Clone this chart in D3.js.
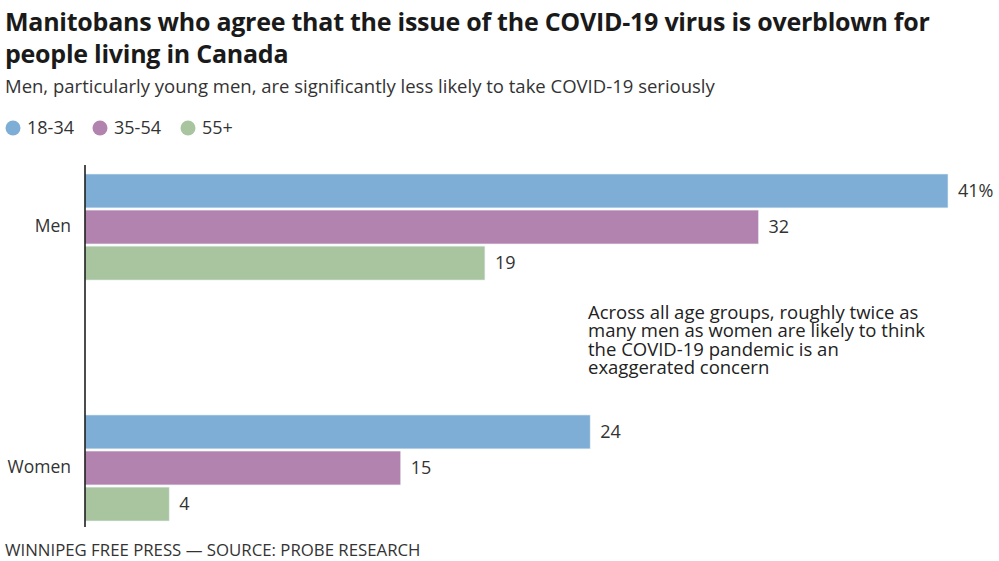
<!DOCTYPE html>
<html>
<head>
<meta charset="utf-8">
<script src="https://cdn.jsdelivr.net/npm/d3@7"></script>
<style>
  body { margin: 0; background: #fff; }
  text { font-family: "Open Sans", sans-serif; fill: #222; }
</style>
</head>
<body>
<div id="chart"></div>
<script>
// data
var groups = ["Men", "Women"];
var ages = ["18-34", "35-54", "55+"];
var menValues = [41, 32, 19];
var womenValues = [24, 15, 4];
var colors = ["#7eaed6", "#b283ae", "#a9c5a0"];
var titleLines = ["Manitobans who agree that the issue of the COVID-19 virus is overblown for",
                  "people living in Canada"];
var subtitle = "Men, particularly young men, are significantly less likely to take COVID-19 seriously";
var note = ["Across all age groups, roughly twice as", "many men as women are likely to think",
            "the COVID-19 pandemic is an", "exaggerated concern"];
var footer = "WINNIPEG FREE PRESS \u2014 SOURCE: PROBE RESEARCH";

var rows = [];
groups.forEach(function(g, gi) {
  var vals = gi === 0 ? menValues : womenValues;
  ages.forEach(function(a, ai) { rows.push({group: g, age: a, value: vals[ai]}); });
});

var W = 999, H = 561;
var svg = d3.select("#chart").append("svg")
    .attr("width", W)
    .attr("height", H);

// title + subtitle
svg.selectAll("text.title")
  .data(titleLines)
  .enter().append("text")
    .attr("class", "title")
    .attr("x", 5)
    .attr("y", function(d, i) { return 31 + i * 32; })
    .style("font-size", "25px")
    .style("font-weight", 700)
    .style("letter-spacing", "-0.25px")
    .style("fill", "#1a1a1a")
    .text(function(d) { return d; });

svg.append("text")
    .attr("x", 5)
    .attr("y", 93)
    .style("font-size", "18.5px")
    .style("fill", "#333")
    .text(subtitle);

// legend
var color = d3.scaleOrdinal().domain(ages).range(colors);
var legX = [13, 100, 188];
var leg = svg.selectAll("g.leg")
  .data(ages)
  .enter().append("g")
    .attr("class", "leg")
    .attr("transform", function(d, i) { return "translate(" + legX[i] + ",128)"; });
leg.append("circle").attr("r", 7.5).attr("fill", function(d) { return color(d); });
leg.append("text")
    .attr("x", 14)
    .attr("dy", "0.35em")
    .style("font-size", "18px")
    .style("fill", "#333")
    .text(function(d) { return d; });

// scales
var x = d3.scaleLinear().domain([0, 41]).range([85, 948]);
var y0 = d3.scaleBand().domain(groups).range([174, 521]).paddingInner(0.56).paddingOuter(0);
var y1 = d3.scaleBand().domain(ages).range([0, y0.bandwidth()]).paddingInner(0.06);

// bars
svg.selectAll("rect.bar")
  .data(rows)
  .enter().append("rect")
    .attr("class", "bar")
    .attr("x", x(0))
    .attr("y", function(d) { return y0(d.group) + y1(d.age); })
    .attr("width", function(d) { return x(d.value) - x(0); })
    .attr("height", y1.bandwidth())
    .attr("fill", function(d) { return color(d.age); })
    .attr("stroke", "#e8eef4")
    .attr("stroke-width", 0.6);

// value labels
svg.selectAll("text.val")
  .data(rows)
  .enter().append("text")
    .attr("class", "val")
    .attr("x", function(d) { return x(d.value) + 10; })
    .attr("y", function(d) { return y0(d.group) + y1(d.age) + y1.bandwidth() / 2; })
    .attr("dy", "0.35em")
    .style("font-size", "18px")
    .style("fill", "#333")
    .text(function(d, i) { return i === 0 ? d.value + "%" : d.value; });

// category labels
svg.selectAll("text.cat")
  .data(groups)
  .enter().append("text")
    .attr("class", "cat")
    .attr("x", 71)
    .attr("y", function(d) { return y0(d) + y0.bandwidth() / 2 - 1; })
    .attr("dy", "0.35em")
    .attr("text-anchor", "end")
    .style("font-size", "17.5px")
    .style("fill", "#333")
    .text(function(d) { return d; });

// axis line
svg.append("line")
    .attr("x1", x(0)).attr("x2", x(0))
    .attr("y1", 165).attr("y2", 527)
    .attr("stroke", "#111")
    .attr("stroke-width", 1.5);

// annotation
svg.append("text")
    .attr("x", 588)
    .attr("y", 319)
    .style("font-size", "18.5px")
    .style("fill", "#222")
  .selectAll("tspan")
  .data(note)
  .enter().append("tspan")
    .attr("x", 588)
    .attr("dy", function(d, i) { return i === 0 ? 0 : 18.3; })
    .text(function(d) { return d; });

// footer
svg.append("text")
    .attr("x", 5)
    .attr("y", 556)
    .style("font-size", "16.8px")
    .style("fill", "#333")
    .text(footer);
</script>
</body>
</html>
